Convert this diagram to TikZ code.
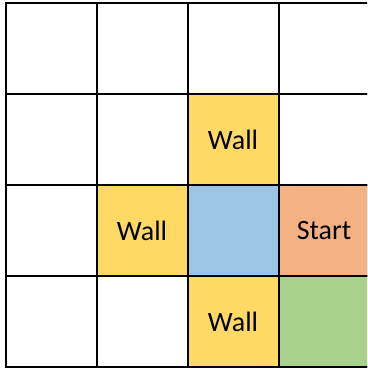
\documentclass[tikz,border=0pt]{standalone}
\usepackage{fontspec}
\setmainfont{Carlito}
\definecolor{wallc}{HTML}{FFD966}
\definecolor{bluec}{HTML}{9DC3E6}
\definecolor{startc}{HTML}{F4B183}
\definecolor{goalc}{HTML}{A9D18E}
\begin{document}
\begin{tikzpicture}[x=1pt,y=1pt,
  cell/.style={draw=black,line width=2pt,minimum size=91pt,inner sep=0pt,font=\fontsize{28}{32}\selectfont,anchor=center}]
\useasboundingbox (0,0) rectangle (367,372);
\clip (0,0) rectangle (367,372);
\foreach \i in {0,...,3}{
  \foreach \j in {0,...,3}{
    \node[cell] (c\i\j) at ({5.5+91*(\i+0.5)},{372-3.5-91*(\j+0.5)}) {};
  }
}
\node[cell,fill=wallc] (w1) at (c21) {Wall};
\node[cell,fill=wallc] (w2) at (c12) {Wall};
\node[cell,fill=bluec] (b) at (c22) {};
\node[cell,fill=startc] (s) at (c32) {Start};
\node[cell,fill=wallc] (w3) at (c23) {Wall};
\node[cell,fill=goalc] (g) at (c33) {};
\end{tikzpicture}
\end{document}
